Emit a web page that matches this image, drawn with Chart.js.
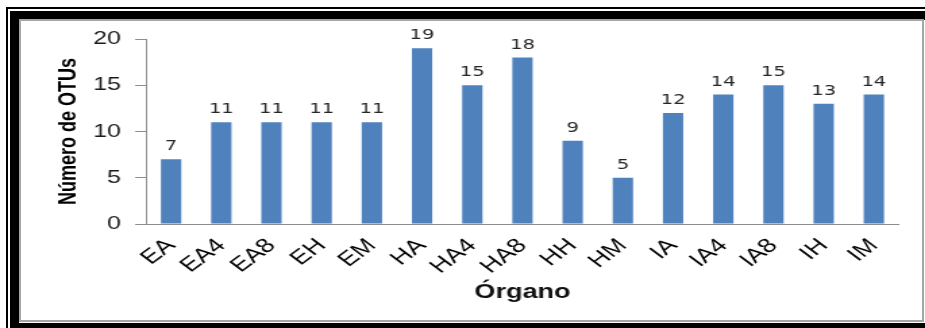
<!DOCTYPE html>
<html>
<head>
<meta charset="utf-8">
<script src="https://cdn.jsdelivr.net/npm/chart.js@4.4.1/dist/chart.umd.min.js"></script>
<style>
  html, body { margin: 0; padding: 0; background: #fff; overflow: hidden; }
  body { width: 925px; height: 328px; position: relative; }
  .frame { position: absolute; box-sizing: border-box; }
  #thin { left: 6px; top: 7px; width: 1000px; height: 400px; border-left: 2px solid #000; border-top: 2px solid #000; }
  #thick { left: 10px; top: 11px; width: 1000px; height: 321px; border: 9px solid #000; background: #fff; }
  #inner { left: 19px; top: 19px; width: 905px; height: 303px; border: 2px solid #a6a6a6; background: #fff; }
  /* the figure is drawn narrow and widened to the full frame */
  #wrap { position: absolute; left: 0; top: 0; width: 685px; height: 328px;
          transform: scaleX(1.3504); transform-origin: 0 0; }
  #c { display: block; }
</style>
</head>
<body>
<div class="frame" id="thin"></div>
<div class="frame" id="thick"></div>
<div class="frame" id="inner"></div>
<div id="wrap"><canvas id="c" width="685" height="328"></canvas></div>
<script>
// Number of OTUs per organ sample
const organs = ['EA', 'EA4', 'EA8', 'EH', 'EM', 'HA', 'HA4', 'HA8', 'HH', 'HM', 'IA', 'IA4', 'IA8', 'IH', 'IM'];
const otuCounts = [7, 11, 11, 11, 11, 19, 15, 18, 9, 5, 12, 14, 15, 13, 14];
const yTicks = [0, 5, 10, 15, 20];

const FONT = "'Liberation Sans', Arial, sans-serif";

// Writes each bar's value above it
const valueLabels = {
  id: 'valueLabels',
  afterDatasetsDraw(chart) {
    const ctx = chart.ctx;
    const meta = chart.getDatasetMeta(0);
    const data = chart.data.datasets[0].data;
    ctx.save();
    ctx.font = "14.5px 'DejaVu Sans', Verdana, sans-serif";
    ctx.fillStyle = '#262626';
    ctx.textAlign = 'center';
    ctx.textBaseline = 'alphabetic';
    meta.data.forEach((bar, i) => {
      ctx.fillText(String(data[i]), bar.x, bar.y - 9);
    });
    ctx.restore();
  }
};

new Chart(document.getElementById('c'), {
  type: 'bar',
  data: {
    labels: organs,
    datasets: [{
      data: otuCounts,
      backgroundColor: '#4f81bd',
      borderWidth: 0,
      barPercentage: 0.405,
      categoryPercentage: 1.0
    }]
  },
  options: {
    responsive: false,
    animation: false,
    devicePixelRatio: 1,
    layout: { padding: { left: 30, top: 39, right: 19.3, bottom: 20 } },
    plugins: { legend: { display: false }, tooltip: { enabled: false } },
    scales: {
      x: {
        grid: { display: false, drawTicks: false },
        border: { display: true, color: '#8c8c8c', width: 1 },
        ticks: {
          color: '#000',
          font: { family: FONT, size: 20 },
          minRotation: 45,
          maxRotation: 45,
          padding: 10,
          autoSkip: false
        },
        title: {
          display: true,
          text: 'Órgano',
          color: '#111',
          font: { family: FONT, size: 20, weight: 'bold' },
          padding: { top: 0, bottom: 4 }
        },
        afterFit(scale) { scale.height = 84; }
      },
      y: {
        min: 0,
        max: 20,
        afterBuildTicks(scale) { scale.ticks = yTicks.map(v => ({ value: v })); },
        grid: { display: true, drawOnChartArea: false, drawTicks: true, tickLength: 8, color: '#8c8c8c' },
        border: { display: true, color: '#8c8c8c', width: 1 },
        ticks: {
          color: '#1a1a1a',
          font: { family: FONT, size: 18.5 },
          padding: 10.5
        },
        title: {
          display: true,
          text: 'Número de OTUs',
          color: '#000',
          font: { family: FONT, size: 18, weight: 'bold' },
          padding: { top: 10.7, bottom: 0 }
        },
        afterFit(scale) { scale.width = 78.1; }
      }
    }
  },
  plugins: [valueLabels]
});
</script>
</body>
</html>
